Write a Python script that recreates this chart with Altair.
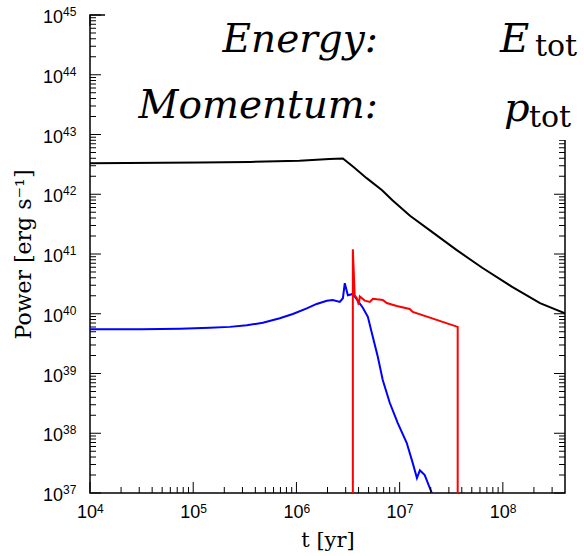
import altair as alt
import pandas as pd

# ---- data (t in yr, power in erg/s) ----
black_t = [1.0e4, 1.15e5, 3.55e5, 1.07e6, 2.09e6, 2.82e6, 3.55e6, 4.79e6, 6.76e6,
           8.51e6, 1.26e7, 1.95e7, 3.55e7, 6.31e7, 1.23e8, 2.29e8, 4.0e8]
black_p = [3.31e42, 3.39e42, 3.47e42, 3.63e42, 3.89e42, 3.98e42, 2.88e42, 1.86e42, 1.17e42,
           7.94e41, 4.37e41, 2.51e41, 1.17e41, 5.89e40, 2.82e40, 1.51e40, 1.02e40]

blue_t = [1.0e4, 3.16e4, 7.43e4, 1.45e5, 2.26e5, 3.31e5, 4.73e5, 6.90e5, 9.23e5, 1.26e6,
          1.57e6, 1.97e6, 2.25e6, 2.63e6, 2.82e6, 2.94e6, 3.15e6, 3.52e6, 4.40e6, 4.92e6,
          5.50e6, 6.14e6, 6.86e6, 8.02e6, 9.59e6, 1.17e7, 1.34e7, 1.47e7, 1.57e7, 1.75e7, 2.05e7]
blue_p = [5.5e39, 5.5e39, 5.62e39, 5.83e39, 6.03e39, 6.41e39, 7.08e39, 8.40e39, 9.91e39, 1.23e40,
          1.46e40, 1.65e40, 1.70e40, 1.58e40, 1.82e40, 3.24e40, 2.04e40, 2.14e40, 1.26e40, 8.91e39,
          4.07e39, 1.91e39, 7.76e38, 3.24e38, 1.48e38, 6.92e37, 3.16e37, 1.78e37, 2.40e37, 2.00e37, 1.0e37]

red_t = [3.52e6, 3.52e6, 3.67e6, 3.85e6, 4.02e6, 4.11e6, 4.59e6, 5.14e6, 5.50e6, 6.86e6,
         7.50e6, 9.38e6, 1.25e7, 1.34e7, 3.65e7, 3.65e7]
red_p = [1.0e37, 1.20e41, 2.04e40, 1.82e40, 1.41e40, 1.95e40, 1.66e40, 1.58e40, 1.78e40, 1.70e40,
         1.51e40, 1.35e40, 1.20e40, 1.07e40, 6.03e39, 1.0e37]

series_names = ["total", "winds", "supernovae"]
series_colors = ["#000000", "#0000ff", "#ff0000"]

# axis ticks / labels
x_decades = [1e4, 1e5, 1e6, 1e7, 1e8]
x_exps = ["4", "5", "6", "7", "8"]
y_decades = [1e37, 1e38, 1e39, 1e40, 1e41, 1e42, 1e43, 1e44, 1e45]
y_exps = ["37", "38", "39", "40", "41", "42", "43", "44", "45"]
x_minor = [k * d for d in x_decades for k in range(2, 10) if k * d < 4e8]
y_minor = [k * d for d in y_decades[:-1] for k in range(2, 10)]

X_DOMAIN = [1e4, 4e8]
Y_DOMAIN = [1e37, 1e45]

W, H = 475, 478

rows = []
for name, ts, ps in zip(series_names, [black_t, blue_t, red_t], [black_p, blue_p, red_p]):
    for i, (t, p) in enumerate(zip(ts, ps)):
        rows.append({"series": name, "t": t, "P": p, "i": i})
df = pd.DataFrame(rows)

xs = alt.Scale(type="log", domain=X_DOMAIN, nice=False)
ys = alt.Scale(type="log", domain=Y_DOMAIN, nice=False)

SERIF = "DejaVu Serif"
SANS = "Liberation Sans, Arimo, Helvetica, Arial, Roboto, sans-serif"

x_axis = alt.Axis(values=x_decades, labels=False, ticks=False, tickSize=0, domain=False, grid=False,
                  title="t [yr]", titleFont=SERIF, titleFontSize=21, titleFontWeight="normal",
                  titleColor="#000", titlePadding=36)
y_axis = alt.Axis(values=y_decades, labels=False, ticks=False, tickSize=0, domain=False, grid=False,
                  title="Power [erg s⁻¹]", titleFont=SERIF, titleFontSize=22,
                  titleFontWeight="normal", titleColor="#000", titlePadding=55)

lines = alt.Chart(df).mark_line(strokeWidth=2, clip=True).encode(
    x=alt.X("t:Q", scale=xs, axis=x_axis),
    y=alt.Y("P:Q", scale=ys, axis=y_axis),
    color=alt.Color("series:N", scale=alt.Scale(domain=series_names, range=series_colors), legend=None),
    order="i:Q",
)

xmaj = pd.DataFrame({"t": x_decades, "e": x_exps})
xmin = pd.DataFrame({"t": x_minor})
ymaj = pd.DataFrame({"P": y_decades, "e": y_exps})
ymin = pd.DataFrame({"P": y_minor})

MAJ, MIN = 11, 6

def xticks(data, length):
    b = alt.Chart(data).mark_rule(color="#000", strokeWidth=1).encode(
        x=alt.X("t:Q", scale=xs, axis=x_axis), y=alt.value(H), y2=alt.value(H - length))
    t = alt.Chart(data).mark_rule(color="#000", strokeWidth=1).encode(
        x=alt.X("t:Q", scale=xs, axis=x_axis), y=alt.value(0), y2=alt.value(length))
    return [b, t]

def yticks(data, length):
    l = alt.Chart(data).mark_rule(color="#000", strokeWidth=1).encode(
        y=alt.Y("P:Q", scale=ys, axis=y_axis), x=alt.value(0), x2=alt.value(length))
    r = alt.Chart(data).mark_rule(color="#000", strokeWidth=1).encode(
        y=alt.Y("P:Q", scale=ys, axis=y_axis), x=alt.value(W), x2=alt.value(W - length))
    return [l, r]

tick_layers = xticks(xmaj, MAJ) + xticks(xmin, MIN) + yticks(ymaj, MAJ) + yticks(ymin, MIN)

# tick labels "10" with a raised exponent
x_lab_base = alt.Chart(xmaj).mark_text(text="10", font=SANS, fontSize=18, align="right",
                                       baseline="alphabetic", dx=7, color="#000").encode(
    x=alt.X("t:Q", scale=xs, axis=x_axis), y=alt.value(H + 25))
x_lab_exp = alt.Chart(xmaj).mark_text(font=SANS, fontSize=12, align="left",
                                      baseline="alphabetic", dx=7, color="#000").encode(
    x=alt.X("t:Q", scale=xs, axis=x_axis), y=alt.value(H + 20), text="e:N")
y_lab_base = alt.Chart(ymaj).mark_text(text="10", font=SANS, fontSize=18, align="right",
                                       baseline="alphabetic", dy=8, color="#000").encode(
    y=alt.Y("P:Q", scale=ys, axis=y_axis), x=alt.value(-27))
y_lab_exp = alt.Chart(ymaj).mark_text(font=SANS, fontSize=12, align="left",
                                      baseline="alphabetic", dy=1, color="#000").encode(
    y=alt.Y("P:Q", scale=ys, axis=y_axis), x=alt.value(-27), text="e:N")

# white background of the in-plot label block
box = alt.Chart(pd.DataFrame({"a": [0]})).mark_rect(color="white").encode(
    x=alt.value(15), x2=alt.value(W + 25), y=alt.value(-16), y2=alt.value(125))

txt = pd.DataFrame({"a": [0]})

def label(text, x, y, size, italic=True, align="left"):
    return alt.Chart(txt).mark_text(
        text=text, font=SERIF, fontSize=size,
        fontStyle="italic" if italic else "normal", align=align, baseline="alphabetic",
        color="#000").encode(x=alt.value(x), y=alt.value(y))

texts = [
    label("Energy:", 288, 37, 39, align="right"),
    label("Momentum:", 288, 103, 39, align="right"),
    label("E", 410, 37, 40),
    label("tot", 445, 41, 30, italic=False),
    label("p", 414, 106, 40),
    label("tot", 439, 112, 30, italic=False),
]

chart = alt.layer(lines, *tick_layers, x_lab_base, x_lab_exp, y_lab_base, y_lab_exp,
                  box, *texts).properties(
    width=W, height=H,
    autosize=alt.AutoSizeParams(type="none"),
    padding={"left": 90, "top": 15, "right": 19, "bottom": 63},
    background="white",
).configure_view(stroke="#000", strokeWidth=1.5)

chart.save("out.html", embed_options={"renderer": "svg", "actions": False})
